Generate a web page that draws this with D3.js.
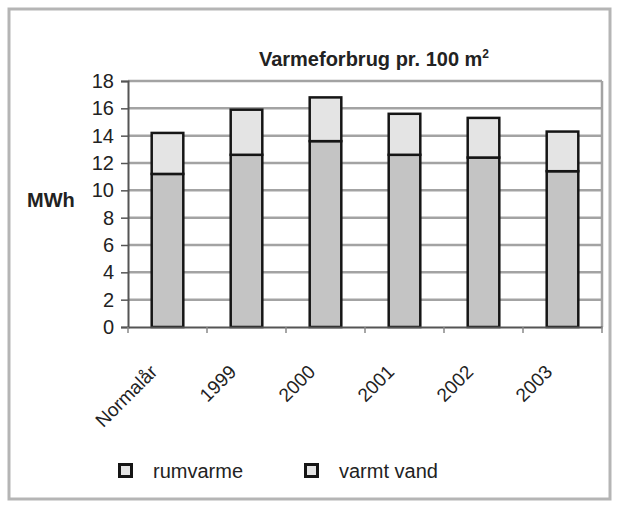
<!DOCTYPE html>
<html>
<head>
<meta charset="utf-8">
<script src="https://cdn.jsdelivr.net/npm/d3@7"></script>
<style>
  body { margin: 0; background: #fff; }
  text { font-family: "Liberation Sans", Arial, sans-serif; fill: #222; }
</style>
</head>
<body>
<div id="chart"></div>
<script>
// Data
var categories = ["Normalår", "1999", "2000", "2001", "2002", "2003"];
var rumvarme = [11.2, 12.6, 13.6, 12.6, 12.4, 11.4];
var varmtVand = [3.0, 3.3, 3.2, 3.0, 2.9, 2.9];
var seriesNames = ["rumvarme", "varmt vand"];
var yTicks = [0, 2, 4, 6, 8, 10, 12, 14, 16, 18];

var attrs = {
  svgWidth: 617,
  svgHeight: 505,
  plotLeft: 128,
  plotRight: 602,
  plotTop: 81,
  plotBottom: 327,
  fontSize: 20,
  gridColor: '#a3a3a3',
  axisColor: '#555',
  fills: ['#c4c4c4', '#e4e4e4']
};

var svg = d3.select('#chart').append('svg')
  .attr('width', attrs.svgWidth)
  .attr('height', attrs.svgHeight);

// outer frame
svg.append('rect')
  .attr('x', 9).attr('y', 9)
  .attr('width', 601).attr('height', 490)
  .attr('fill', '#fff')
  .attr('stroke', '#b5b5b5')
  .attr('stroke-width', 3);

var x = d3.scaleBand()
  .domain(categories)
  .range([attrs.plotLeft, attrs.plotRight])
  .paddingInner(0.6)
  .paddingOuter(0.3);

var y = d3.scaleLinear()
  .domain([0, 18])
  .range([attrs.plotBottom, attrs.plotTop]);

// gridlines
svg.append('g').selectAll('line')
  .data(yTicks.filter(d => d > 0))
  .enter().append('line')
  .attr('x1', attrs.plotLeft).attr('x2', attrs.plotRight)
  .attr('y1', d => y(d)).attr('y2', d => y(d))
  .attr('stroke', attrs.gridColor)
  .attr('stroke-width', 2.5);

// right border of plot
svg.append('line')
  .attr('x1', attrs.plotRight).attr('x2', attrs.plotRight)
  .attr('y1', y(18)).attr('y2', y(0))
  .attr('stroke', attrs.gridColor)
  .attr('stroke-width', 2.5);

// stacked data
var stackData = categories.map((c, i) => ({ cat: c, rumvarme: rumvarme[i], varmtVand: varmtVand[i] }));
var stack = d3.stack().keys(['rumvarme', 'varmtVand'])(stackData);

svg.append('g').selectAll('g')
  .data(stack)
  .enter().append('g')
  .attr('fill', (d, i) => attrs.fills[i])
  .selectAll('rect')
  .data(d => d)
  .enter().append('rect')
  .attr('x', d => x(d.data.cat))
  .attr('width', x.bandwidth())
  .attr('y', d => y(d[1]))
  .attr('height', d => y(d[0]) - y(d[1]))
  .attr('stroke', '#151515')
  .attr('stroke-width', 2.5);

// y axis
var yAxis = d3.axisLeft(y).tickValues(yTicks).tickSize(7).tickPadding(7);
var gy = svg.append('g')
  .attr('transform', 'translate(' + attrs.plotLeft + ',0)')
  .call(yAxis);
gy.select('.domain').attr('stroke', attrs.axisColor).attr('stroke-width', 2);
gy.selectAll('.tick line').attr('stroke', attrs.axisColor).attr('stroke-width', 1.5);
gy.selectAll('.tick text')
  .attr('font-size', attrs.fontSize)
  .attr('font-family', '"Liberation Sans", Arial, sans-serif')
  .attr('fill', '#333');

// x axis
var xAxis = d3.axisBottom(x).tickSize(0).tickFormat('');
var gx = svg.append('g')
  .attr('transform', 'translate(0,' + attrs.plotBottom + ')')
  .call(xAxis);
gx.select('.domain').attr('stroke', attrs.axisColor).attr('stroke-width', 2);

// category boundary ticks
var step = x.step();
svg.append('g').selectAll('line')
  .data(d3.range(categories.length + 1))
  .enter().append('line')
  .attr('x1', i => attrs.plotLeft + i * step)
  .attr('x2', i => attrs.plotLeft + i * step)
  .attr('y1', attrs.plotBottom)
  .attr('y2', attrs.plotBottom + 6)
  .attr('stroke', '#888')
  .attr('stroke-width', 1.5);

// rotated category labels
svg.append('g').selectAll('text')
  .data(categories)
  .enter().append('text')
  .attr('transform', d => 'translate(' + (x(d) + x.bandwidth() / 2 - 9) + ',' + 373 + ') rotate(-45)')
  .attr('text-anchor', 'end')
  .attr('font-size', 19)
  .attr('fill', '#333')
  .text(d => d);

// title
var title = svg.append('text')
  .attr('x', 374)
  .attr('y', 66)
  .attr('text-anchor', 'middle')
  .attr('font-size', attrs.fontSize)
  .attr('font-weight', 'bold')
  .text('Varmeforbrug pr. 100 m');
title.append('tspan')
  .attr('dy', -8)
  .attr('font-size', 12)
  .text('2');

// y axis label
svg.append('text')
  .attr('x', 27)
  .attr('y', 200)
  .attr('dy', '0.35em')
  .attr('font-size', attrs.fontSize)
  .attr('font-weight', 'bold')
  .text('MWh');

// legend
var legendX = [118, 304];
var legend = svg.append('g').selectAll('g')
  .data(seriesNames)
  .enter().append('g')
  .attr('transform', (d, i) => 'translate(' + legendX[i] + ',463)');
legend.append('rect')
  .attr('x', 1.5).attr('y', 1.5)
  .attr('width', 12).attr('height', 12)
  .attr('fill', (d, i) => attrs.fills[1])
  .attr('stroke', '#151515')
  .attr('stroke-width', 3);
legend.append('text')
  .attr('x', 35)
  .attr('y', 8)
  .attr('dy', '0.35em')
  .attr('font-size', attrs.fontSize)
  .attr('fill', '#333')
  .text(d => d);
</script>
</body>
</html>
